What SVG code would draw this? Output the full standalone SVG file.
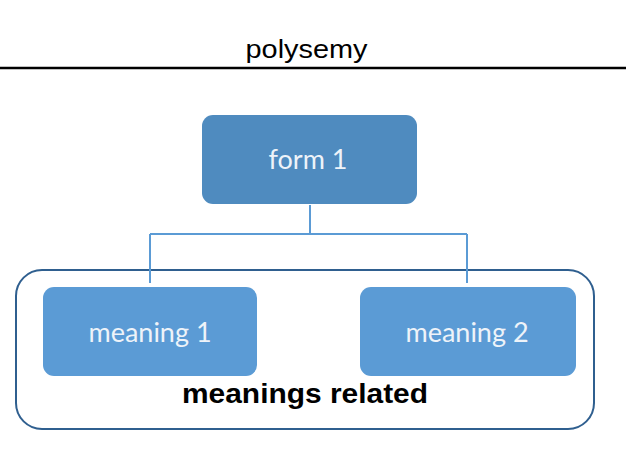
<svg xmlns="http://www.w3.org/2000/svg" width="640" height="453" viewBox="0 0 640 453">
<style>
.box{stroke:none}
.lbl{font-family:Lato,"Open Sans","Liberation Sans",sans-serif;font-size:27px;fill:#eef3f9;text-anchor:middle}
.conn{stroke:#5b9bd5;stroke-width:2;fill:none}
</style>
<rect width="640" height="453" fill="#ffffff"/>
<text x="306.5" y="58" font-family="Liberation Sans, Arial, sans-serif" font-size="25" text-anchor="middle" fill="#000" textLength="122" lengthAdjust="spacingAndGlyphs">polysemy</text>
<line x1="0" y1="68" x2="626" y2="68" stroke="#000" stroke-width="2.5"/>
<g id="group-meanings">
<rect x="16" y="270" width="578" height="159" rx="26" fill="#fff" stroke="#2f5f8f" stroke-width="2"/>
<text x="305" y="403" font-family="Liberation Sans, Arial, sans-serif" font-size="28" font-weight="bold" text-anchor="middle" fill="#000" textLength="246" lengthAdjust="spacingAndGlyphs">meanings related</text>
</g>
<g id="connectors">
<path class="conn" d="M310 205 V234 M150 234 H467 M150 234 V283 M467 234 V283"/>
</g>
<g id="form1">
<rect class="box" x="202" y="115" width="215" height="89" rx="11" fill="#4f8bbf"/>
<text class="lbl" x="308" y="169">form 1</text>
</g>
<g id="meaning1">
<rect class="box" x="43" y="287" width="214" height="89" rx="11" fill="#5b9bd5"/>
<text class="lbl" x="150" y="342">meaning 1</text>
</g>
<g id="meaning2">
<rect class="box" x="360" y="287" width="216" height="89" rx="11" fill="#5b9bd5"/>
<text class="lbl" x="467" y="342">meaning 2</text>
</g>
</svg>
